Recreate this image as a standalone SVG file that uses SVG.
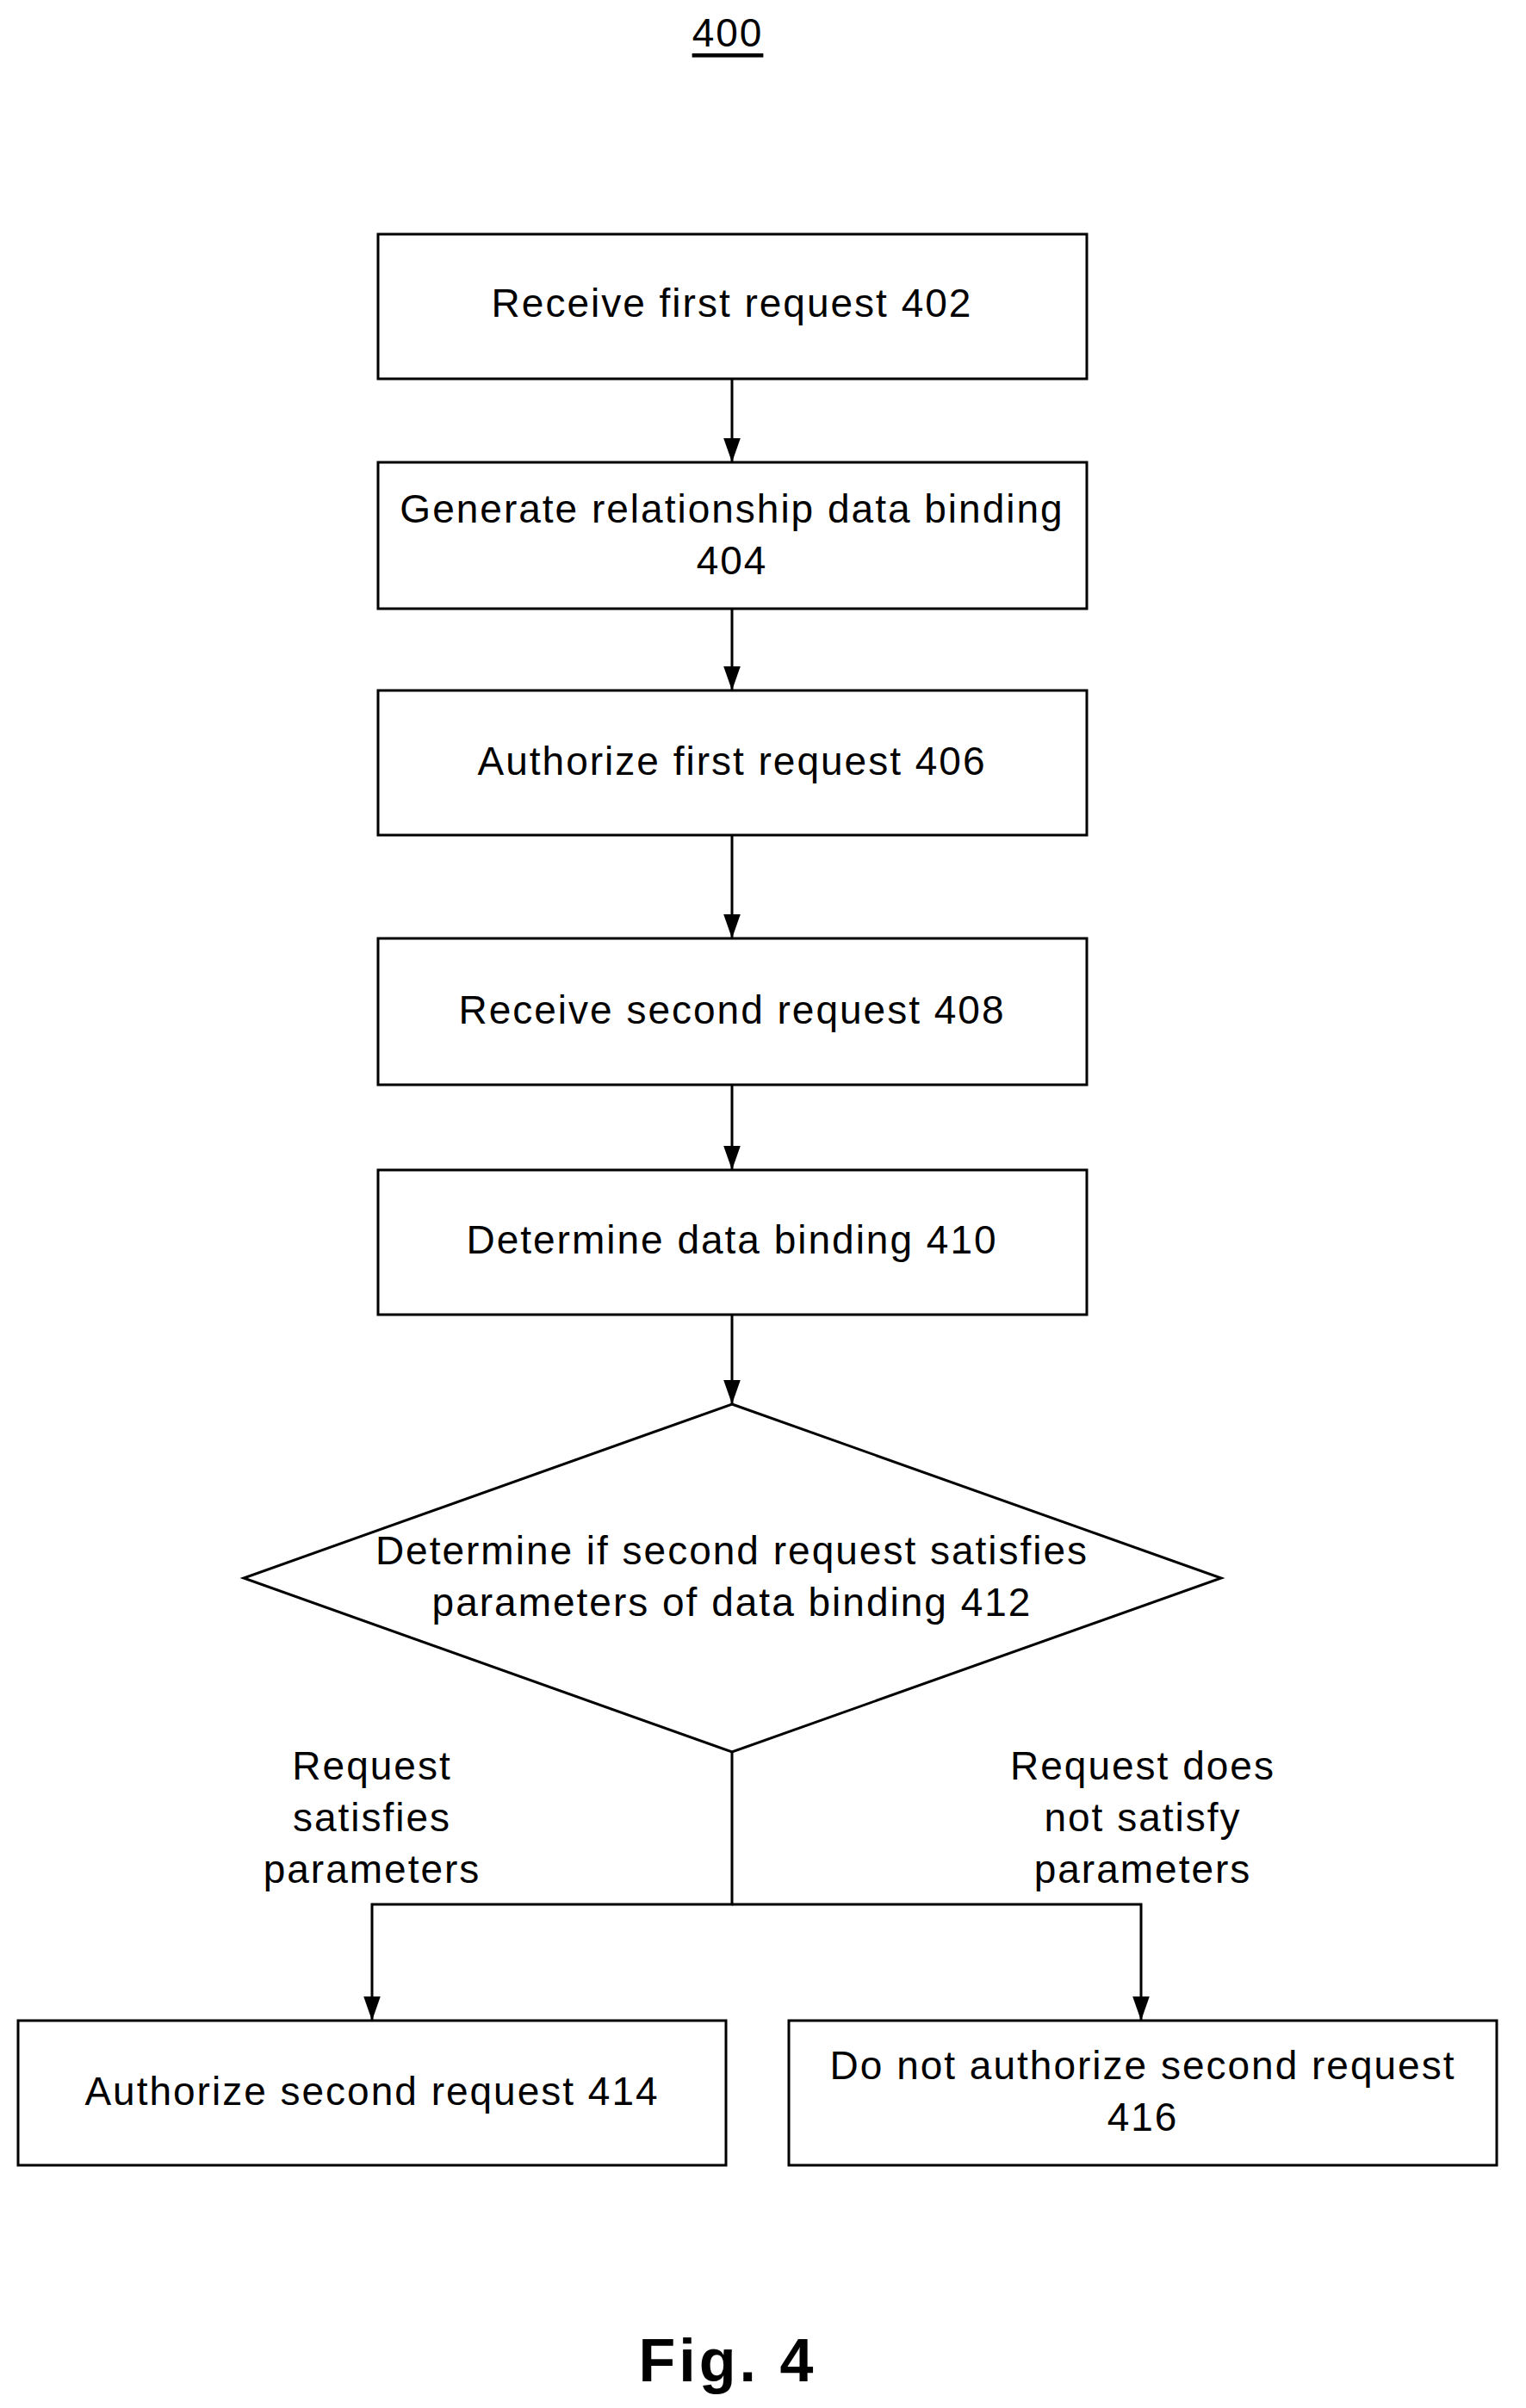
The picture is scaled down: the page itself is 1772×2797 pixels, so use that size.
<svg xmlns="http://www.w3.org/2000/svg" width="1772" height="2797" viewBox="0 0 1772 2797">
<style>
rect,polygon{fill:#fff;stroke:#000;stroke-width:3}
text{font-family:"Liberation Sans",Arial,sans-serif;font-size:46px;letter-spacing:2px;fill:#000;text-anchor:middle;dominant-baseline:central}
.c{stroke:#000;stroke-width:3;fill:none}
</style>
<defs>
<marker id="b" viewBox="0 0 10 10" refX="10" refY="5" markerWidth="28" markerHeight="28" markerUnits="userSpaceOnUse" orient="auto"><path d="M0,1.5L10,5L0,8.5z" fill="#000"/></marker></defs>
<text x="845" y="38" text-decoration="underline">400</text>
<g id="n402"><rect x="439" y="272" width="823" height="168"/><text x="850" y="352">Receive first request 402</text></g>
<g id="n404"><rect x="439" y="537" width="823" height="170"/><text x="850" y="591">Generate relationship data binding</text><text x="850" y="651">404</text></g>
<g id="n406"><rect x="439" y="802" width="823" height="168"/><text x="850" y="884">Authorize first request 406</text></g>
<g id="n408"><rect x="439" y="1090" width="823" height="170"/><text x="850" y="1173">Receive second request 408</text></g>
<g id="n410"><rect x="439" y="1359" width="823" height="168"/><text x="850" y="1440">Determine data binding 410</text></g>
<g id="n412"><polygon points="850,1631 1418,1833 850,2035 283,1833"/><text x="850" y="1801">Determine if second request satisfies</text><text x="850" y="1861">parameters of data binding 412</text></g>
<g id="n414"><rect x="21" y="2347" width="822" height="168"/><text x="432" y="2429">Authorize second request 414</text></g>
<g id="n416"><rect x="916" y="2347" width="822" height="168"/><text x="1327" y="2399">Do not authorize second request</text><text x="1327" y="2459">416</text></g>
<g id="labels">
<text x="432" y="2051">Request</text><text x="432" y="2111">satisfies</text><text x="432" y="2171">parameters</text>
<text x="1327" y="2051">Request does</text><text x="1327" y="2111">not satisfy</text><text x="1327" y="2171">parameters</text>
</g>
<g id="connectors">
<line class="c" x1="850" y1="440" x2="850" y2="537" marker-end="url(#b)"/>
<line class="c" x1="850" y1="707" x2="850" y2="802" marker-end="url(#b)"/>
<line class="c" x1="850" y1="970" x2="850" y2="1090" marker-end="url(#b)"/>
<line class="c" x1="850" y1="1260" x2="850" y2="1359" marker-end="url(#b)"/>
<line class="c" x1="850" y1="1527" x2="850" y2="1631" marker-end="url(#b)"/>
<polyline class="c" points="850,2035 850,2212 432,2212 432,2347" marker-end="url(#b)"/>
<polyline class="c" points="850,2212 1325,2212 1325,2347" marker-end="url(#b)"/>
</g>
<text x="845" y="2742" style="font-size:70px;font-weight:bold;letter-spacing:4px">Fig. 4</text>
</svg>
